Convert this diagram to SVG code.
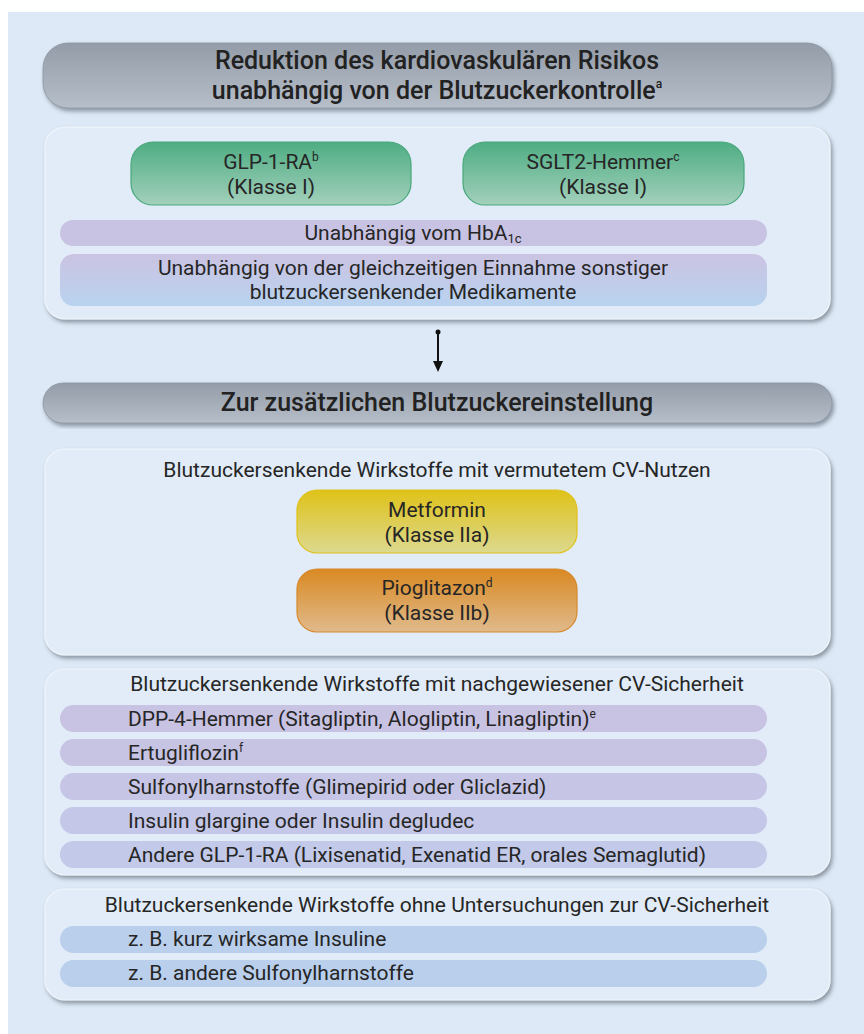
<svg xmlns="http://www.w3.org/2000/svg" width="864" height="1034" viewBox="0 0 864 1034">
  <defs>
    <linearGradient id="gHead" x1="0" y1="0" x2="0" y2="1">
      <stop offset="0" stop-color="#939ca8"/>
      <stop offset="1" stop-color="#b6bec9"/>
    </linearGradient>
    <linearGradient id="gGreen" x1="0" y1="0" x2="0" y2="1">
      <stop offset="0" stop-color="#4ead83"/>
      <stop offset="1" stop-color="#a3d0bc"/>
    </linearGradient>
    <linearGradient id="gYellow" x1="0" y1="0" x2="0" y2="1">
      <stop offset="0" stop-color="#dfc218"/>
      <stop offset="1" stop-color="#dcd98f"/>
    </linearGradient>
    <linearGradient id="gOrange" x1="0" y1="0" x2="0" y2="1">
      <stop offset="0" stop-color="#d98922"/>
      <stop offset="1" stop-color="#e0ba8c"/>
    </linearGradient>
    <linearGradient id="gMix" x1="0" y1="0" x2="0" y2="1">
      <stop offset="0" stop-color="#cbc3e2"/>
      <stop offset="1" stop-color="#b8d3ef"/>
    </linearGradient>
    <filter id="shadow" x="-5%" y="-10%" width="110%" height="125%">
      <feDropShadow dx="2" dy="3" stdDeviation="2" flood-color="#4a5360" flood-opacity="0.55"/>
    </filter>
  </defs>
  <style>
    text { font-family: Roboto, "Liberation Sans", sans-serif; fill: #262626; }
    .head { font-size: 25px; font-weight: 500; text-anchor: middle; fill: #222; }
    .t { font-size: 21px; }
    .c { text-anchor: middle; }
    .sup { font-size: 12px; }
    .sub { font-size: 13px; }
    .headbox { fill: url(#gHead); stroke: #8c96a2; stroke-width: 0.8; filter: url(#shadow); }
    .panel { fill: #e1ecf8; stroke: #f1f6fc; stroke-width: 1.2; filter: url(#shadow); }
    .green { fill: url(#gGreen); stroke: #48a77b; stroke-width: 1.2; }
    .yellow { fill: url(#gYellow); stroke: #e0c01a; stroke-width: 1.2; }
    .orange { fill: url(#gOrange); stroke: #d8882a; stroke-width: 1.2; }
    .purple { fill: #c9c3e3; }
    .blue { fill: #b9cfec; }
    .link { stroke: #111; stroke-width: 2; fill: none; }
  </style>

  <!-- page background -->
  <rect x="0" y="0" width="864" height="1034" fill="#ffffff"/>
  <rect x="8" y="12" width="856" height="1022" fill="#dde9f6"/>

  <!-- top heading -->
  <g id="head-risk">
    <rect class="headbox" x="43" y="43" width="789" height="65" rx="25"/>
    <text class="head" x="437" y="69">Reduktion des kardiovaskulären Risikos</text>
    <text class="head" x="437" y="99">unabhängig von der Blutzuckerkontrolle<tspan class="sup" dy="-11">a</tspan></text>
  </g>

  <!-- first panel: agents with class I recommendation -->
  <g id="panel-class1">
    <rect class="panel" x="45" y="127" width="785" height="192" rx="20"/>
  </g>
  <g id="node-glp1">
    <rect class="green" x="131" y="142" width="280" height="63" rx="22"/>
    <text class="t c" x="271" y="169">GLP-1-RA<tspan class="sup" dy="-8">b</tspan></text>
    <text class="t c" x="271" y="194">(Klasse I)</text>
  </g>
  <g id="node-sglt2">
    <rect class="green" x="463" y="142" width="281" height="63" rx="22"/>
    <text class="t c" x="603" y="169">SGLT2-Hemmer<tspan class="sup" dy="-8">c</tspan></text>
    <text class="t c" x="603" y="194">(Klasse I)</text>
  </g>
  <g id="bar-hba1c">
    <rect class="purple" x="60" y="220" width="707" height="26" rx="13"/>
    <text class="t c" x="413" y="240">Unabhängig vom HbA<tspan class="sub" dy="3">1c</tspan></text>
  </g>
  <g id="bar-comedication">
    <rect x="60" y="254" width="707" height="52" rx="14" fill="url(#gMix)"/>
    <text class="t c" x="413" y="275">Unabhängig von der gleichzeitigen Einnahme sonstiger</text>
    <text class="t c" x="413" y="299">blutzuckersenkender Medikamente</text>
  </g>

  <!-- connectors -->
  <g id="connectors">
    <circle cx="438" cy="332" r="2.5" fill="#111"/>
    <line class="link" x1="438" y1="332" x2="438" y2="363"/>
    <polygon points="433,361 443,361 438,372" fill="#111"/>
  </g>

  <!-- second heading -->
  <g id="head-glucose">
    <rect class="headbox" x="43" y="383" width="789" height="40" rx="20"/>
    <text class="head" x="437" y="411">Zur zusätzlichen Blutzuckereinstellung</text>
  </g>

  <!-- presumed CV benefit -->
  <g id="panel-benefit">
    <rect class="panel" x="45" y="449" width="785" height="206" rx="20"/>
    <text class="t c" x="437" y="477">Blutzuckersenkende Wirkstoffe mit vermutetem CV-Nutzen</text>
  </g>
  <g id="node-metformin">
    <rect class="yellow" x="297" y="490" width="280" height="63" rx="20"/>
    <text class="t c" x="437" y="517">Metformin</text>
    <text class="t c" x="437" y="542">(Klasse IIa)</text>
  </g>
  <g id="node-pioglitazon">
    <rect class="orange" x="297" y="569" width="280" height="63" rx="20"/>
    <text class="t c" x="437" y="595">Pioglitazon<tspan class="sup" dy="-8">d</tspan></text>
    <text class="t c" x="437" y="620">(Klasse IIb)</text>
  </g>

  <!-- proven CV safety -->
  <g id="panel-safety">
    <rect class="panel" x="45" y="669" width="785" height="206" rx="20"/>
    <text class="t c" x="437" y="691">Blutzuckersenkende Wirkstoffe mit nachgewiesener CV-Sicherheit</text>
  </g>
  <g id="item-dpp4">
    <rect x="60" y="705" width="707" height="27" rx="13.5" fill="#c9c3e3"/>
    <text class="t" x="128" y="726">DPP-4-Hemmer (Sitagliptin, Alogliptin, Linagliptin)<tspan class="sup" dy="-8">e</tspan></text>
  </g>
  <g id="item-ertugliflozin">
    <rect x="60" y="739" width="707" height="27" rx="13.5" fill="#c7c3e3"/>
    <text class="t" x="128" y="760">Ertugliflozin<tspan class="sup" dy="-8">f</tspan></text>
  </g>
  <g id="item-sulfonyl">
    <rect x="60" y="773" width="707" height="27" rx="13.5" fill="#c6c5e5"/>
    <text class="t" x="128" y="794">Sulfonylharnstoffe (Glimepirid oder Gliclazid)</text>
  </g>
  <g id="item-insulin">
    <rect x="60" y="807" width="707" height="27" rx="13.5" fill="#c4c7e7"/>
    <text class="t" x="128" y="828">Insulin glargine oder Insulin degludec</text>
  </g>
  <g id="item-glp1-other">
    <rect x="60" y="841" width="707" height="27" rx="13.5" fill="#c2c9e9"/>
    <text class="t" x="128" y="862">Andere GLP-1-RA (Lixisenatid, Exenatid ER, orales Semaglutid)</text>
  </g>

  <!-- no CV safety studies -->
  <g id="panel-unstudied">
    <rect class="panel" x="45" y="889" width="785" height="111" rx="20"/>
    <text class="t c" x="437" y="912">Blutzuckersenkende Wirkstoffe ohne Untersuchungen zur CV-Sicherheit</text>
  </g>
  <g id="item-short-insulin">
    <rect class="blue" x="60" y="926" width="707" height="27" rx="13.5"/>
    <text class="t" x="128" y="946">z. B. kurz wirksame Insuline</text>
  </g>
  <g id="item-other-sulfonyl">
    <rect class="blue" x="60" y="960" width="707" height="27" rx="13.5"/>
    <text class="t" x="128" y="980">z. B. andere Sulfonylharnstoffe</text>
  </g>
</svg>
